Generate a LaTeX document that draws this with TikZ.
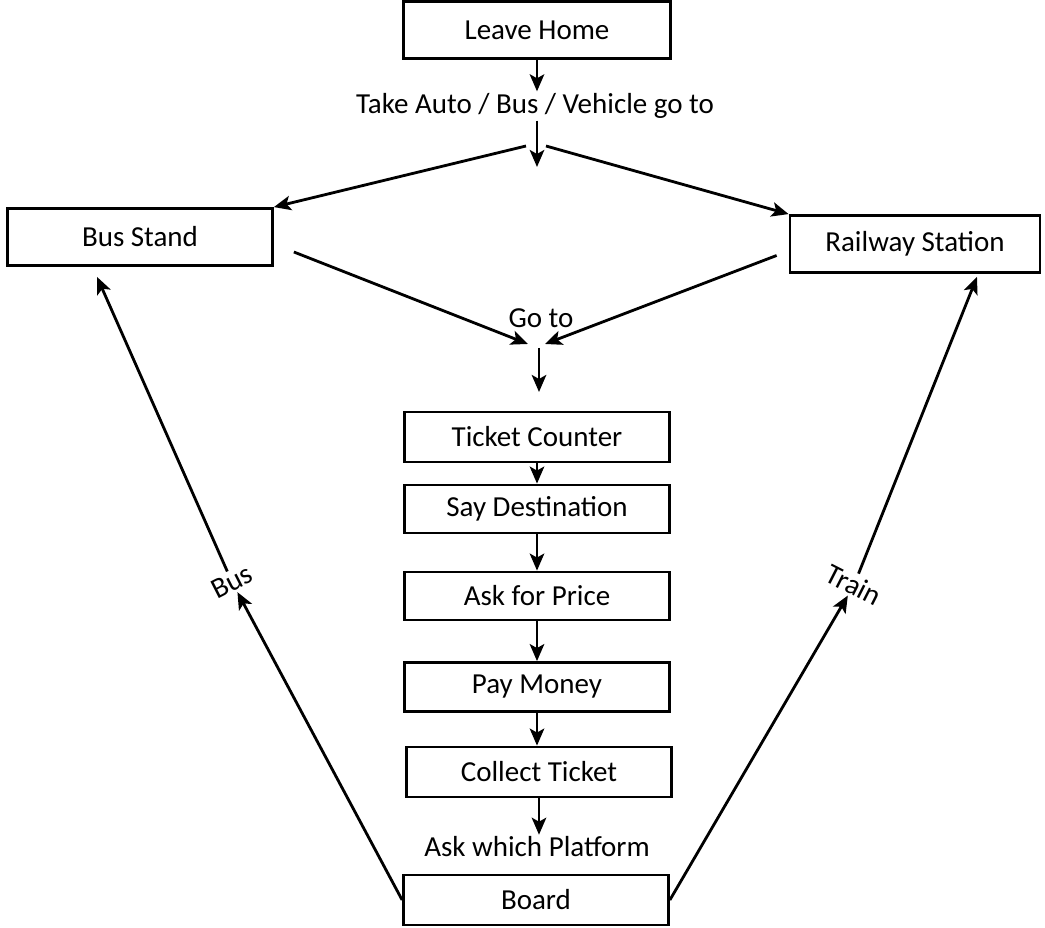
\documentclass[tikz,border=0pt]{standalone}
\usepackage{fontspec}
\setmainfont{Carlito}
\usepackage{tikz}
\usetikzlibrary{calc, arrows.meta}

\begin{document}
\begin{tikzpicture}[
  x=0.02cm, y=-0.02cm,
  stepbox/.style={
    rectangle, draw, line width=1.6pt,
    minimum width=5.3cm, minimum height=1cm,
    inner sep=0pt, font=\fontsize{16.5}{19}\selectfont
  },
  lbl/.style={inner sep=1pt, font=\fontsize{16.5}{19}\selectfont},
  flow/.style={->, line width=1.6pt},
  >={Stealth[length=3.4mm, width=2.9mm, inset=0.8mm]}
]
\useasboundingbox (0,0) rectangle (1045,928);

% Nodes
\node[stepbox, minimum width=5.34cm, minimum height=1.14cm] (Leave_Home) at (537,30) {Leave Home};
\node[lbl] (Take_Vehicle) at (535,106) {Take Auto / Bus / Vehicle go to};
\node[stepbox, minimum height=1.14cm] (Bus_Stand) at (140,237) {Bus Stand};
\node[stepbox, minimum width=5cm, minimum height=1.14cm] (Railway_Station) at (915,244) {Railway Station};
\node[lbl] (Go_To) at (541,318) {Go to};
\node[stepbox] (Ticket_Counter) at (537,437) {Ticket Counter};
\node[stepbox, minimum height=0.96cm] (Say_Destination) at (537,509) {Say Destination};
\node[stepbox, minimum height=0.96cm] (Ask_Price) at (537,596) {Ask for Price};
\node[stepbox, minimum height=0.98cm] (Pay_Money) at (537,687) {Pay Money};
\node[stepbox] (Collect_Ticket) at (539,772) {Collect Ticket};
\node[lbl] (Ask_Platform) at (537,847) {Ask which Platform};
\node[stepbox] (Board) at (536,900) {Board};
\node[lbl, rotate=27] (Bus_Label) at (232,582) {Bus};
\node[lbl, rotate=-27] (Train_Label) at (854,585) {Train};

% Free ends
\coordinate (fork_tip) at (537,167);
\coordinate (fork_left) at (526,146);
\coordinate (fork_right) at (546,146);
\coordinate (merge_left) at (528,344);
\coordinate (merge_right) at (545,344);
\coordinate (merge_top) at (539,348);
\coordinate (merge_tip) at (539,392);

% Edges
\draw[flow] (Leave_Home.south) -- (Leave_Home.south |- Take_Vehicle.north);
\draw[flow] (Take_Vehicle.south -| fork_tip) -- (fork_tip);
\draw[flow] (fork_left) -- (Bus_Stand.north east);
\draw[flow] (fork_right) -- (Railway_Station.north west);

\draw[flow] ([xshift=0.4cm, yshift=-0.3cm]Bus_Stand.east) -- (merge_left);
\draw[flow] ([xshift=-0.24cm, yshift=-0.23cm]Railway_Station.west) -- (merge_right);
\draw[flow] (merge_top) -- (merge_tip);

\draw[flow] (Ticket_Counter.south) -- (Ticket_Counter.south |- Say_Destination.north);
\draw[flow] (Say_Destination.south) -- (Say_Destination.south |- Ask_Price.north);
\draw[flow] (Ask_Price.south) -- (Ask_Price.south |- Pay_Money.north);
\draw[flow] (Pay_Money.south) -- (Pay_Money.south |- Collect_Ticket.north);
\draw[flow] (Collect_Ticket.south) -- (Collect_Ticket.south |- Ask_Platform.north);

\draw[flow] (Board.west) -- (Bus_Label);
\draw[flow] (Bus_Label) -- ([xshift=-0.86cm, yshift=-0.2cm]Bus_Stand.south);
\draw[flow] (Board.east) -- (Train_Label);
\draw[flow] (Train_Label) -- ([xshift=1.24cm, yshift=-0.06cm]Railway_Station.south);

\end{tikzpicture}
\end{document}
